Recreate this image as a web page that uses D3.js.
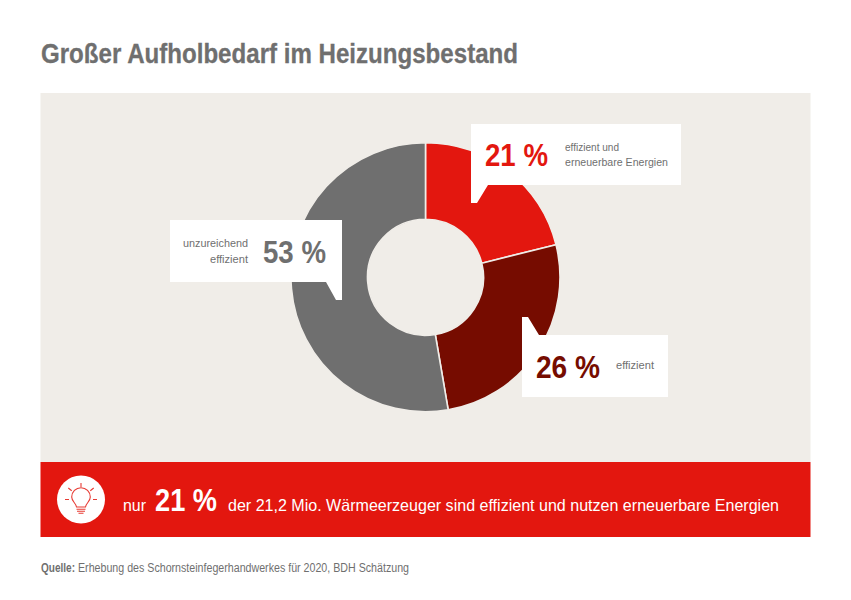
<!DOCTYPE html>
<html><head><meta charset="utf-8">
<script src="https://cdn.jsdelivr.net/npm/d3@7"></script>
<style>html,body{margin:0;padding:0;background:#fff}svg{display:block}text{font-family:"Liberation Sans",sans-serif}</style>
</head><body><div id="c"></div>
<script>
const categories=["effizient und erneuerbare Energien","effizient","unzureichend effizient"];
const values=[21.1,26.2,52.7];
const colors=["#e3170f","#760c00","#6f6f6f"];
const valueLabels=["21 %","26 %","53 %"];
const W=851,H=600;
const svg=d3.select("#c").append("svg").attr("width",W).attr("height",H);
const bg="#f0ede8";
function T(x,y,s,size,fill,weight,anchor,len){
  const t=svg.append("text").attr("x",x).attr("y",y).text(s).attr("font-size",size).attr("fill",fill)
   .attr("font-weight",weight||400).attr("text-anchor",anchor||"start");
  if(len){t.attr("textLength",len).attr("lengthAdjust","spacingAndGlyphs");}
  return t;
}
T(41,63,"Großer Aufholbedarf im Heizungsbestand",28,"#6f6f6f",700,"start",477).attr("stroke","#6f6f6f").attr("stroke-width",0.3);
svg.append("rect").attr("x",40.5).attr("y",93).attr("width",770).attr("height",369).attr("fill",bg);
const cx=425.5,cy=277.3;
const pie=d3.pie().sort(null).value(d=>d)(values);
const arc=d3.arc().innerRadius(58).outerRadius(134.5);
svg.append("g").attr("transform",`translate(${cx},${cy})`).selectAll("path").data(pie).join("path")
 .attr("d",arc).attr("fill",(d,i)=>colors[i]).attr("stroke",bg).attr("stroke-width",1.6);
const line=d3.line();
svg.append("path").attr("fill","#fff").attr("d",line([[471,124],[681,124],[681,185],[488,185],[477,203],[471,203]])+"Z");
svg.append("path").attr("fill","#fff").attr("d",line([[522,317],[528,317],[539,335],[668,335],[668,397],[522,397]])+"Z");
svg.append("path").attr("fill","#fff").attr("d",line([[170,220],[342,220],[342,300],[336,300],[326,282],[170,282]])+"Z");
T(485,166,valueLabels[0],32,colors[0],700,"start",63);
T(536,378,valueLabels[1],32,colors[1],700,"start",64);
T(326,263,valueLabels[2],32,colors[2],700,"end",63);
T(565,151,"effizient und",11,"#6f6f6f",400,"start",54);
T(565,166,"erneuerbare Energien",11,"#6f6f6f",400,"start",103);
T(616,369,"effizient",11,"#6f6f6f",400,"start",38);
T(248,247,"unzureichend",11,"#6f6f6f",400,"end",65);
T(248,263,"effizient",11,"#6f6f6f",400,"end",38);
svg.append("rect").attr("x",40.5).attr("y",462).attr("width",770).attr("height",75).attr("fill",colors[0]);
svg.append("circle").attr("cx",81).attr("cy",499.5).attr("r",24).attr("fill","#fff");
const ic=svg.append("g").attr("fill","none").attr("stroke",colors[0]).attr("stroke-width",1.1).attr("stroke-opacity",0.85);
ic.append("path").attr("d","M76.5,507 C76,503 71.7,501.5 71.7,497 A9.3,9.3 0 1 1 90.3,497 C90.3,501.5 86,503 85.5,507 Z");
ic.append("path").attr("d","M76.5,509.3H85.5M77,511.3H85M78.5,513.3H83.5");
ic.append("path").attr("d","M81,483V487M68.3,488L71.7,490.7M93.7,488L90.3,490.7M65,499.5H69M93,499.5H97");
T(123,511,"nur",16.5,"#fff",400,"start",23);
T(155,511,valueLabels[0],32,"#fff",700,"start",62);
T(228,511,"der 21,2 Mio. Wärmeerzeuger sind effizient und nutzen erneuerbare Energien",16.5,"#fff",400,"start",551);
T(41,572,"Quelle:",12,"#6f6f6f",700,"start",34);
T(78,572,"Erhebung des Schornsteinfegerhandwerkes für 2020, BDH Schätzung",12,"#6f6f6f",400,"start",331);
</script></body></html>
